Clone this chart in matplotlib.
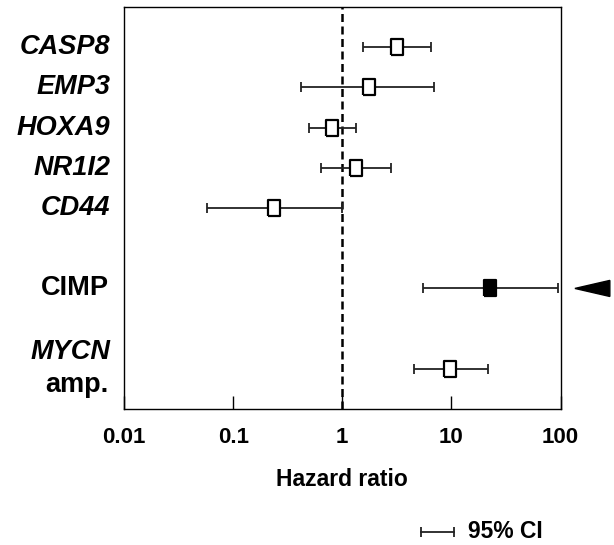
import matplotlib
matplotlib.use("Agg")
import matplotlib.pyplot as plt
from matplotlib.lines import Line2D
from matplotlib.patches import Polygon
import matplotlib.transforms as mtransforms

# hazard ratios with 95% CI
genes = ["CASP8", "EMP3", "HOXA9", "NR1I2", "CD44", "CIMP", "MYCN"]
rows = [0, 1, 2, 3, 4, 6, 8]
hr = [3.19, 1.75, 0.81, 1.33, 0.237, 22.6, 9.73]
ci_low = [1.55, 0.415, 0.496, 0.64, 0.057, 5.5, 4.53]
ci_high = [6.56, 7.0, 1.34, 2.77, 0.99, 95.0, 21.5]
filled = [False, False, False, False, False, True, False]
xticks = [0.01, 0.1, 1, 10, 100]
xticklabels = ["0.01", "0.1", "1", "10", "100"]

plt.rcParams['font.family'] = ['Liberation Sans', 'DejaVu Sans']
plt.rcParams['font.weight'] = 'bold'

fig = plt.figure(figsize=(6.14, 5.45), dpi=100)
ax = fig.add_axes([0.202, 0.2495, 0.7109, 0.7375])

# dashed reference line at HR = 1
ax.axvline(1, color='black', lw=1.8, dashes=(3.2, 1.8), zorder=1)

box = [(-0.4, -0.5), (0.4, -0.5), (0.4, 0.5), (-0.4, 0.5), (-0.4, -0.5)]
for i in range(len(genes)):
    err = [[hr[i] - ci_low[i]], [ci_high[i] - hr[i]]]
    ax.errorbar(hr[i], rows[i], xerr=err, fmt='none', ecolor='#222222',
                elinewidth=1.3, capsize=3.3, capthick=1.3, zorder=2)
    ax.plot(hr[i], rows[i], marker=box, markersize=11,
            markerfacecolor='black' if filled[i] else 'white',
            markeredgecolor='black', markeredgewidth=1.6, zorder=3)

ax.set_xscale('log')
ax.set_xlim(0.01, 100)
ax.set_ylim(9, -1)
ax.set_xticks(xticks)
ax.set_xticklabels(xticklabels)
ax.minorticks_off()
ax.set_yticks([])
ax.tick_params(axis='x', direction='in', length=9.5, width=1, labelsize=16, pad=13)
for s in ax.spines.values():
    s.set_linewidth(1)
ax.set_xlabel("Hazard ratio", fontsize=16.5, fontweight='bold', labelpad=14)

# row labels on the left
trans = mtransforms.blended_transform_factory(ax.transAxes, ax.transData)
for i, g in enumerate(genes):
    if g == "CIMP":
        ax.text(-0.035, rows[i], g, transform=trans, ha='right', va='center',
                fontsize=19.5, fontweight='bold')
    elif g == "MYCN":
        ax.text(-0.032, rows[i] - 0.42, g, transform=trans, ha='right', va='center',
                fontsize=19.5, fontweight='bold', style='italic')
        ax.text(-0.035, rows[i] + 0.4, "amp.", transform=trans, ha='right', va='center',
                fontsize=19.5, fontweight='bold')
    else:
        ax.text(-0.032, rows[i], g, transform=trans, ha='right', va='center',
                fontsize=19.5, fontweight='bold', style='italic')

# arrow head pointing at CIMP
y_c = rows[genes.index("CIMP")]
tri = Polygon([(1.033, y_c), (1.113, y_c - 0.2), (1.113, y_c + 0.2)], closed=True,
              transform=trans, color='black', clip_on=False)
ax.add_patch(tri)

# CI legend
fig.add_artist(Line2D([0.686, 0.739], [0.024, 0.024], color='#222222', lw=1.3,
                      marker='|', markersize=6.5, markeredgewidth=1.3,
                      transform=fig.transFigure))
fig.text(0.762, 0.024, "95% CI", fontsize=16.5, fontweight='bold', va='center')

fig.savefig("out.png", dpi=100)
